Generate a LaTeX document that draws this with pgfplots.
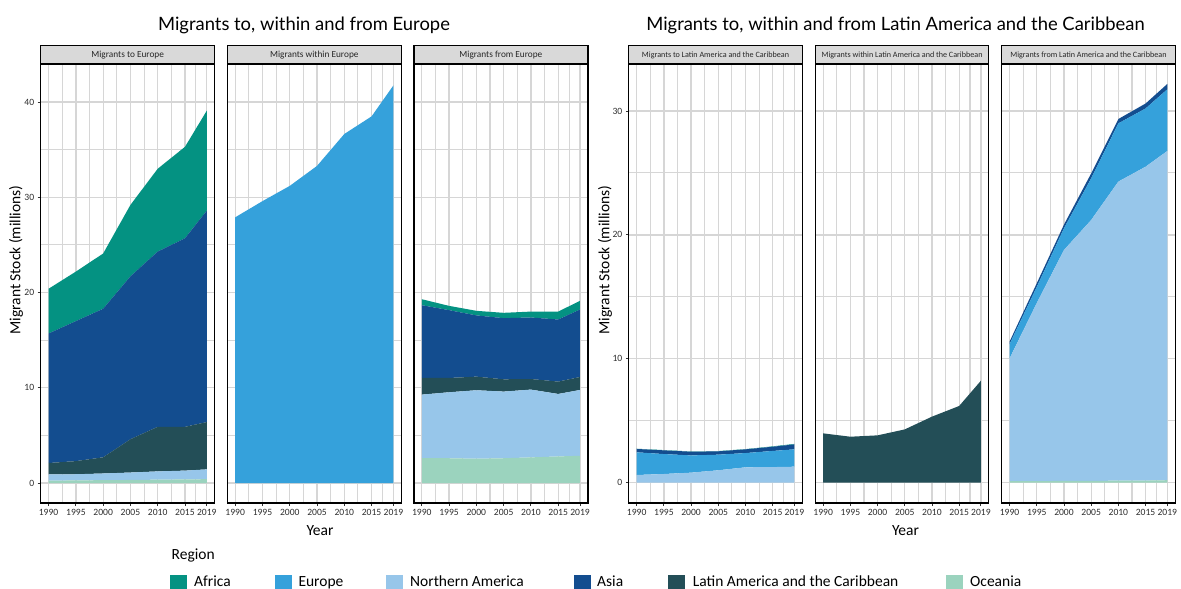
\documentclass[border=0pt]{standalone}
\usepackage{pgfplots}
\usepackage{pgfplotstable}
\pgfplotsset{compat=1.18}
\usepackage{fontspec}
\setmainfont{Carlito}
\newfontfamily\titlefont{Lato}

\definecolor{cAfr}{HTML}{049282}
\definecolor{cEur}{HTML}{35A1DB}
\definecolor{cNA}{HTML}{97C6EA}
\definecolor{cAsia}{HTML}{134D8F}
\definecolor{cLat}{HTML}{234E57}
\definecolor{cOce}{HTML}{9BD3BE}
\definecolor{stripgray}{HTML}{D9D9D9}
\definecolor{gridgray}{HTML}{D6D6D6}

% columns: year oce na lat eur asia afr (millions)
\pgfplotstableread{
year oce na lat eur asia afr
1990 0.25 0.65 1.20 0 13.60 4.70
1995 0.27 0.65 1.38 0 14.70 5.20
2000 0.30 0.70 1.70 0 15.60 5.80
2005 0.32 0.78 3.50 0 17.10 7.50
2010 0.35 0.87 4.68 0 18.40 8.70
2015 0.38 0.92 4.60 0 19.80 9.60
2019 0.40 1.03 4.97 0 22.20 10.50
}\toEur
\pgfplotstableread{
year eur
1990 27.90
1995 29.60
2000 31.20
2005 33.30
2010 36.65
2015 38.50
2019 41.75
}\withinEur
\pgfplotstableread{
year oce na lat eur asia afr
1990 2.62 6.66 1.75 0 7.64 0.63
1995 2.60 6.93 1.50 0 7.12 0.45
2000 2.55 7.19 1.43 0 6.43 0.48
2005 2.60 7.00 1.29 0 6.42 0.56
2010 2.69 7.12 1.11 0 6.46 0.62
2015 2.79 6.56 1.30 0 6.52 0.83
2019 2.86 6.91 1.36 0 7.09 0.91
}\fromEur
\pgfplotstableread{
year oce na lat eur asia afr
1990 0 0.62 0 1.83 0.27 0.02
1995 0 0.70 0 1.61 0.30 0.02
2000 0 0.81 0 1.39 0.30 0.02
2005 0 1.00 0 1.26 0.27 0.02
2010 0 1.24 0 1.15 0.30 0.02
2015 0 1.26 0 1.30 0.34 0.03
2019 0 1.29 0 1.40 0.40 0.04
}\toLat
\pgfplotstableread{
year lat
1990 3.98
1995 3.71
2000 3.82
2005 4.30
2010 5.33
2015 6.19
2019 8.23
}\withinLat
\pgfplotstableread{
year oce na lat eur asia afr
1990 0.12 9.91 0 1.16 0.20 0
1995 0.13 14.37 0 1.30 0.30 0
2000 0.14 18.64 0 1.75 0.30 0
2005 0.15 21.05 0 3.36 0.40 0
2010 0.16 24.14 0 4.70 0.35 0
2015 0.17 25.33 0 4.70 0.40 0
2019 0.20 26.57 0 4.98 0.43 0
}\fromLat

\pgfplotsset{
  panel/.style={
    scale only axis, height=439pt,
    xmin=1988.55, xmax=2020.45,
    xtick={1990,1995,2000,2005,2010,2015,2019},
    minor xtick={1992.5,1997.5,2002.5,2007.5,2012.5,2017},
    grid=both,
    major grid style={color=gridgray, line width=1.3pt},
    minor grid style={color=gridgray, line width=1.1pt},
    axis line style={black, line width=1.2pt},
    tick align=outside, major tick length=3pt, minor tick length=0pt,
    tick style={black!80, line width=0.9pt},
    xtick pos=bottom, ytick pos=left,
    tick label style={font=\fontsize{9.6}{10}\selectfont, text=black!82},
    /pgf/number format/assume math mode=true,
    scaled x ticks=false,
    xticklabel style={/pgf/number format/1000 sep={}},
    stack plots=y,
    anchor=north west,
  },
  eurp/.style={panel, width=174pt, ymin=-2.1, ymax=44.0,
    ytick={0,10,20,30,40}, minor ytick={5,15,25,35}},
  latp/.style={panel, width=173.5pt, ymin=-1.64, ymax=33.79,
    ytick={0,10,20,30}, minor ytick={5,15,25}},
  inner/.style={yticklabels={}, ytick style={draw=none}},
}

\begin{document}
\begin{tikzpicture}
\path[use as bounding box] (0pt,0pt) rectangle (1181pt,-589pt);

% ---------- Europe ----------
\begin{axis}[eurp, at={(40.7pt,-64pt)}]
\addplot[fill=cOce, draw=none] table[x=year,y=oce]{\toEur} \closedcycle;
\addplot[fill=cNA, draw=none] table[x=year,y=na]{\toEur} \closedcycle;
\addplot[fill=cLat, draw=none] table[x=year,y=lat]{\toEur} \closedcycle;
\addplot[fill=cAsia, draw=none] table[x=year,y=asia]{\toEur} \closedcycle;
\addplot[fill=cAfr, draw=none] table[x=year,y=afr]{\toEur} \closedcycle;
\end{axis}
\begin{axis}[eurp, inner, at={(227.3pt,-64pt)}]
\addplot[fill=cEur, draw=none] table[x=year,y=eur]{\withinEur} \closedcycle;
\end{axis}
\begin{axis}[eurp, inner, at={(413.9pt,-64pt)}]
\addplot[fill=cOce, draw=none] table[x=year,y=oce]{\fromEur} \closedcycle;
\addplot[fill=cNA, draw=none] table[x=year,y=na]{\fromEur} \closedcycle;
\addplot[fill=cLat, draw=none] table[x=year,y=lat]{\fromEur} \closedcycle;
\addplot[fill=cAsia, draw=none] table[x=year,y=asia]{\fromEur} \closedcycle;
\addplot[fill=cAfr, draw=none] table[x=year,y=afr]{\fromEur} \closedcycle;
\end{axis}

% ---------- Latin America ----------
\begin{axis}[latp, at={(628.8pt,-64pt)}]
\addplot[fill=cNA, draw=none] table[x=year,y=na]{\toLat} \closedcycle;
\addplot[fill=cEur, draw=none] table[x=year,y=eur]{\toLat} \closedcycle;
\addplot[fill=cAsia, draw=none] table[x=year,y=asia]{\toLat} \closedcycle;
\addplot[fill=cAfr, draw=none] table[x=year,y=afr]{\toLat} \closedcycle;
\end{axis}
\begin{axis}[latp, inner, at={(815.3pt,-64pt)}]
\addplot[fill=cLat, draw=none] table[x=year,y=lat]{\withinLat} \closedcycle;
\end{axis}
\begin{axis}[latp, inner, at={(1001.7pt,-64pt)}]
\addplot[fill=cOce, draw=none] table[x=year,y=oce]{\fromLat} \closedcycle;
\addplot[fill=cNA, draw=none] table[x=year,y=na]{\fromLat} \closedcycle;
\addplot[fill=cEur, draw=none] table[x=year,y=eur]{\fromLat} \closedcycle;
\addplot[fill=cAsia, draw=none] table[x=year,y=asia]{\fromLat} \closedcycle;
\end{axis}

\begin{scope}[x=1pt,y=1pt]
% ---------- strips ----------
\tikzset{strip/.style={fill=stripgray, draw=black, line width=1.2pt}}
\foreach \x/\w/\t/\s in {40.7/174/Migrants to Europe/9.3, 227.3/174/Migrants within Europe/9.3, 413.9/174/Migrants from Europe/9.3,
  628.8/173.5/Migrants to Latin America and the Caribbean/8.1, 815.3/173.5/Migrants within Latin America and the Caribbean/8.1, 1001.7/173.5/Migrants from Latin America and the Caribbean/8.1}{
  \draw[strip] (\x,-45.7) rectangle ++(\w,-18.3);
  \node[text=black!85, font=\fontsize{\s}{\s}\selectfont, inner sep=0] at (\x+\w/2,-55) {\t};
}

% ---------- titles ----------
\node[anchor=base, inner sep=0, font=\titlefont\fontsize{18.4}{22}\selectfont] at (304,-30) {Migrants to, within and from Europe};
\node[anchor=base, inner sep=0, font=\titlefont\fontsize{18.4}{22}\selectfont] at (895.5,-30) {Migrants to, within and from Latin America and the Caribbean};

% ---------- axis titles ----------
\node[rotate=90, inner sep=0, font=\fontsize{15.5}{17}\selectfont] at (16,-260) {Migrant Stock (millions)};
\node[rotate=90, inner sep=0, font=\fontsize{15.5}{17}\selectfont] at (605,-260) {Migrant Stock (millions)};
\node[anchor=base, inner sep=0, font=\fontsize{15.5}{17}\selectfont] at (320,-535) {Year};
\node[anchor=base, inner sep=0, font=\fontsize{15.5}{17}\selectfont] at (905.5,-535) {Year};

% ---------- legend ----------
\node[anchor=base west, inner sep=0, font=\fontsize{15.5}{17}\selectfont] at (171.5,-559) {Region};
\foreach \kx/\tx/\c/\t in {170/194/cAfr/Africa, 275/298.3/cEur/Europe, 386/410/cNA/Northern America, 574/597/cAsia/Asia, 668/692.7/cLat/Latin America and the Caribbean, 946/970/cOce/Oceania}{
  \fill[\c] (\kx,-575) rectangle ++(16.7,-17);
  \node[anchor=base west, inner sep=0, font=\fontsize{15.5}{17}\selectfont] at (\tx,-586.7) {\t};
}
\end{scope}
\end{tikzpicture}
\end{document}
